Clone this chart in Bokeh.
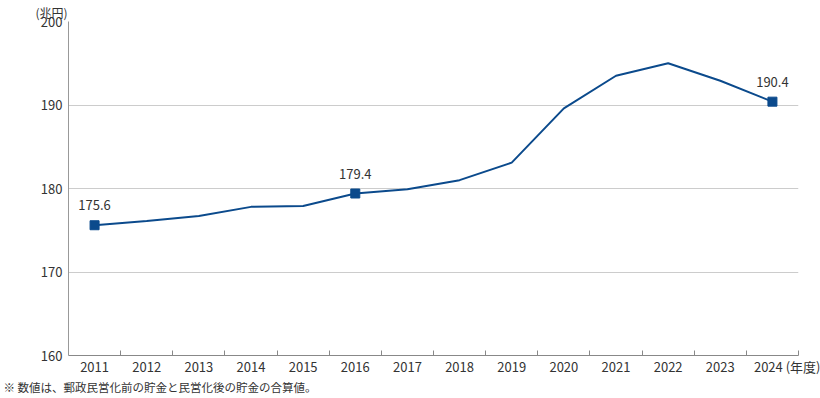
from bokeh.plotting import figure
from bokeh.models import ColumnDataSource, FixedTicker, Title
from bokeh.core.properties import value
from bokeh.embed import file_html
from bokeh.resources import INLINE

years = [2011, 2012, 2013, 2014, 2015, 2016, 2017, 2018, 2019, 2020, 2021, 2022, 2023, 2024]
savings = [175.6, 176.1, 176.7, 177.8, 177.9, 179.4, 179.9, 181.0, 183.1, 189.6, 193.5, 195.0, 192.9, 190.4]
labeled_years = [2011, 2016, 2024]
y_ticks = [160, 170, 180, 190, 200]
unit_y = "(兆円)"
unit_x = "(年度)"
note = "※ 数値は、郵政民営化前の貯金と民営化後の貯金の合算値。"

FONT = "Noto Sans CJK JP"
LINE = "#0b4a8c"
TXT = "#333333"

W, H = 820, 398
L, R, T, B = 68, 22, 21, 43

p = figure(width=W, height=H, output_backend="svg", toolbar_location=None,
           x_range=(2010.5, 2024.5), y_range=(160, 200),
           min_border_left=L, min_border_right=R, min_border_top=T, min_border_bottom=B)
p.outline_line_color = None
p.background_fill_color = "white"
p.border_fill_color = "white"

src = ColumnDataSource(dict(x=years, y=savings))
p.line("x", "y", source=src, line_color=LINE, line_width=2)

lab_x = [x for x in labeled_years]
lab_y = [savings[years.index(x)] for x in labeled_years]
lab_t = [f"{v:.1f}" for v in lab_y]
lsrc = ColumnDataSource(dict(x=lab_x, y=lab_y, t=lab_t))
p.scatter("x", "y", source=lsrc, marker="square", size=9, fill_color=LINE, line_color=LINE)
p.text("x", "y", text="t", source=lsrc, text_align="center", text_baseline="bottom",
       y_offset=-15, text_font=value(FONT), text_font_size="13px", text_color=TXT)

# x axis; the unit sits after the last year label (padded so 2024 stays centred)
labels = {y: str(y) for y in years}
labels[years[-1]] = "\u3000\u3000\u3000" + str(years[-1]) + " " + unit_x
xa = p.xaxis[0]
xa.ticker = FixedTicker(ticks=years, minor_ticks=[y + 0.5 for y in years])
xa.major_label_overrides = labels
xa.major_tick_line_color = None
xa.major_tick_out = 0
xa.major_tick_in = 0
xa.minor_tick_in = 5
xa.minor_tick_out = 0
xa.minor_tick_line_color = "#888888"
xa.axis_line_color = "#888888"
xa.major_label_text_font = FONT
xa.major_label_text_font_size = "13px"
xa.major_label_text_color = TXT
xa.major_label_standoff = 1

# y axis
ya = p.yaxis[0]
ya.ticker = FixedTicker(ticks=y_ticks)
ya.major_tick_line_color = None
ya.major_tick_out = 0
ya.minor_tick_line_color = None
ya.axis_line_color = "#999999"
ya.major_label_text_font = FONT
ya.major_label_text_font_size = "13px"
ya.major_label_text_color = TXT
ya.major_label_standoff = 6

p.xgrid.grid_line_color = None
p.ygrid.grid_line_color = "#cccccc"
p.ygrid.ticker = FixedTicker(ticks=y_ticks)

p.add_layout(Title(text=unit_y, align="left", offset=35 - L, standoff=1,
                   text_font=FONT, text_font_size="12px", text_font_style="normal",
                   text_color=TXT), "above")
p.add_layout(Title(text=note, align="left", offset=3 - L, standoff=-3,
                   text_font=FONT, text_font_size="11.5px", text_font_style="normal",
                   text_color=TXT), "below")

open("out.html", "w").write(file_html(p, INLINE))
